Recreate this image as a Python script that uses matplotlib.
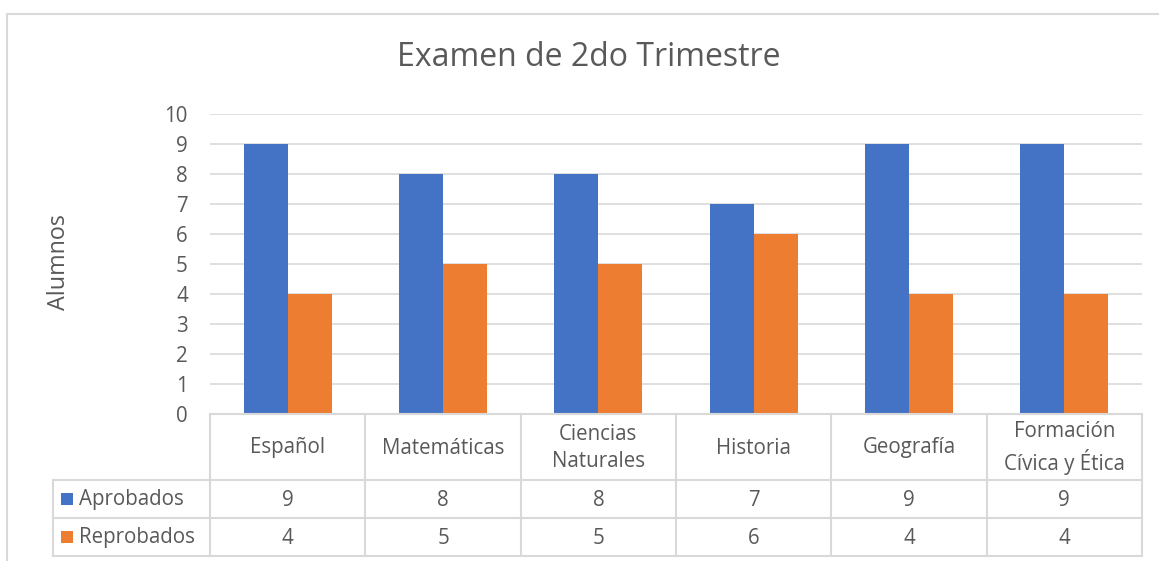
import numpy as np
import matplotlib
matplotlib.use("Agg")
import matplotlib.pyplot as plt
from matplotlib.patches import Rectangle

plt.rcParams['font.family'] = ['Open Sans', 'DejaVu Sans']

# Data
materias = ["Español", "Matemáticas", "Ciencias\nNaturales", "Historia",
            "Geografía", "Formación\nCívica y Ética"]
aprobados = [9, 8, 8, 7, 9, 9]
reprobados = [4, 5, 5, 6, 4, 4]
series = ["Aprobados", "Reprobados"]

azul = "#4472C4"
naranja = "#ED7D31"
gris_texto = "#595959"
gris_linea = "#D9D9D9"
fs = 14.8

W, H = 1159, 561
fig = plt.figure(figsize=(W / 100, H / 100), dpi=100)

# chart area border
fig.patches.append(Rectangle((7 / W, -0.1), 1.2, (H - 14) / H + 0.1,
                             transform=fig.transFigure, fill=False,
                             edgecolor=gris_linea, linewidth=1.5))

# plot area (pixels: x 210-1142, y 114-414)
ax = fig.add_axes([210 / W, (H - 414) / H, 932 / W, 300 / H])
x = np.arange(len(materias))
w = 0.284
ax.bar(x - w / 2, aprobados, w, color=azul, zorder=3)
ax.bar(x + w / 2, reprobados, w, color=naranja, zorder=3)

ax.set_xlim(-0.5, len(materias) - 0.5)
ax.set_ylim(0, 10)
ax.set_yticks(range(0, 11))
ax.yaxis.grid(True, color=gris_linea, linewidth=1.2, zorder=0)
ax.set_xticks([])
for s in ax.spines.values():
    s.set_visible(False)
ax.tick_params(axis='y', length=0, labelsize=fs, labelcolor=gris_texto, pad=16)

fig.text(589 / W, 1 - 58 / H, "Examen de 2do Trimestre", ha='center', va='center',
         fontsize=23, color=gris_texto)
fig.text(59 / W, 1 - 262 / H, "Alumnos", rotation=90, ha='center', va='center',
         fontsize=16.8, color=gris_texto)

# data table below the axis (pixel rows)
y0, y1, y2, y3 = 414, 480, 518, 556
xl, xa, xr = 53, 210, 1142
colw = (xr - xa) / len(materias)

def px(xp, yp):
    return xp / W, 1 - yp / H

def hline(yp, xs, xe):
    a, b = px(xs, yp), px(xe, yp)
    fig.add_artist(plt.Line2D([a[0], b[0]], [a[1], b[1]], color=gris_linea,
                              linewidth=1.5, transform=fig.transFigure))

def vline(xp, ys, ye):
    a, b = px(xp, ys), px(xp, ye)
    fig.add_artist(plt.Line2D([a[0], b[0]], [a[1], b[1]], color=gris_linea,
                              linewidth=1.5, transform=fig.transFigure))

hline(y0, xa, xr)
for yy in (y1, y2, y3):
    hline(yy, xl, xr)
vline(xl, y1, y3)
for i in range(len(materias) + 1):
    vline(xa + i * colw, y0, y3)

for i, m in enumerate(materias):
    cx = xa + (i + 0.5) * colw
    fig.text(*px(cx, (y0 + y1) / 2 + 1), m, ha='center', va='center', fontsize=fs,
             color=gris_texto, linespacing=1.32)
    fig.text(*px(cx, (y1 + y2) / 2 + 1), str(aprobados[i]), ha='center', va='center',
             fontsize=fs, color=gris_texto)
    fig.text(*px(cx, (y2 + y3) / 2 + 1), str(reprobados[i]), ha='center', va='center',
             fontsize=fs, color=gris_texto)

for nombre, color, (ya, yb) in zip(series, [azul, naranja], [(y1, y2), (y2, y3)]):
    ym = (ya + yb) / 2
    fig.patches.append(Rectangle(px(61, ym + 6), 12 / W, 12 / H, transform=fig.transFigure,
                                 facecolor=color, edgecolor='none'))
    fig.text(*px(79, ym + 1), nombre, ha='left', va='center', fontsize=fs, color=gris_texto)

fig.savefig("out.png", dpi=100)
